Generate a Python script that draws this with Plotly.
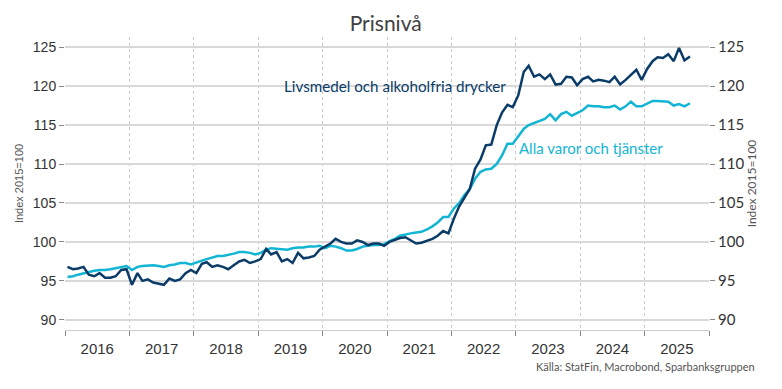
import plotly.graph_objects as go
import pandas as pd

months = pd.date_range("2016-01-01", periods=117, freq="MS") + pd.Timedelta(days=14)
dates = [d.strftime("%Y-%m-%d") for d in months]

livsmedel = [
    96.8, 96.5, 96.6, 96.8, 95.8, 95.6, 96.0, 95.4, 95.4, 95.6, 96.4, 96.5,   # 2016
    94.5, 96.0, 95.0, 95.2, 94.8, 94.6, 94.5, 95.3, 95.0, 95.2, 96.0, 96.4,   # 2017
    96.0, 97.2, 97.4, 96.8, 97.0, 96.8, 96.5, 97.0, 97.5, 97.7, 97.3, 97.5,   # 2018
    97.8, 99.1, 98.4, 98.7, 97.5, 97.8, 97.3, 98.6, 97.9, 98.0, 98.2, 99.0,   # 2019
    99.4, 99.8, 100.4, 100.0, 99.8, 99.8, 100.2, 100.0, 99.6, 99.8, 99.8, 99.5,  # 2020
    100.0, 100.3, 100.5, 100.6, 100.2, 99.8, 99.9, 100.1, 100.4, 100.8, 101.4, 101.1,  # 2021
    103.0, 104.6, 105.6, 106.8, 109.4, 110.6, 112.4, 112.5, 115.0, 116.6, 117.6, 117.3,  # 2022
    118.8, 121.8, 122.6, 121.2, 121.5, 120.9, 121.5, 120.2, 120.3, 121.2, 121.1, 120.1,  # 2023
    120.9, 121.2, 120.6, 120.8, 120.7, 120.5, 121.2, 120.2, 120.8, 121.4, 122.1, 120.8,  # 2024
    122.2, 123.2, 123.7, 123.6, 124.1, 123.2, 124.9, 123.3, 123.8,  # 2025
]

alla = [
    95.5, 95.6, 95.8, 96.0, 96.2, 96.3, 96.4, 96.4, 96.5, 96.6, 96.8, 96.9,   # 2016
    96.4, 96.8, 96.9, 97.0, 97.0, 96.9, 96.8, 97.0, 97.1, 97.3, 97.3, 97.1,   # 2017
    97.4, 97.6, 97.8, 98.0, 98.2, 98.2, 98.3, 98.5, 98.7, 98.7, 98.6, 98.4,   # 2018
    98.6, 99.0, 99.2, 99.1, 99.1, 99.0, 99.2, 99.3, 99.3, 99.4, 99.4, 99.5,   # 2019
    99.2, 99.5, 99.4, 99.2, 98.9, 98.9, 99.1, 99.4, 99.5, 99.6, 99.6, 99.7,   # 2020
    100.1, 100.4, 100.8, 101.0, 101.1, 101.2, 101.3, 101.6, 102.0, 102.5, 103.2, 103.2,  # 2021
    104.3, 105.0, 106.0, 106.8, 108.1, 109.0, 109.3, 109.4, 110.0, 111.1, 112.6, 112.6,  # 2022
    113.5, 114.5, 115.0, 115.3, 115.6, 115.8, 116.4, 115.6, 116.4, 116.7, 116.2, 116.5,  # 2023
    116.9, 117.5, 117.4, 117.4, 117.3, 117.3, 117.5, 117.0, 117.4, 118.0, 117.4, 117.4,  # 2024
    117.7, 118.1, 118.1, 118.0, 118.0, 117.5, 117.7, 117.4, 117.8,  # 2025
]

y_ticks = [90, 95, 100, 105, 110, 115, 120, 125]

DARK = "#0b3c68"
LIGHT = "#12b5d3"
TXT = "#333333"
GRID = "#d9d9d9"

# the page body has an 8px margin, so the figure is drawn 8px in and down
W, H = 774, 381
L, R, T, B = 57, 73, 29, 59

fig = go.Figure()
fig.add_trace(go.Scatter(x=dates, y=alla, mode="lines", line=dict(color=LIGHT, width=2.5),
                         name="Alla varor och tjänster", showlegend=False))
fig.add_trace(go.Scatter(x=dates, y=livsmedel, mode="lines", line=dict(color=DARK, width=2.5),
                         name="Livsmedel och alkoholfria drycker", showlegend=False))
fig.add_trace(go.Scatter(x=dates, y=livsmedel, yaxis="y2", mode="lines",
                         line=dict(width=0), hoverinfo="skip", showlegend=False, opacity=0))

pw = W - L - R
ph = H - T - B
yr = [88.7, 126.3]
fig.update_layout(
    width=W, height=H,
    margin=dict(l=L, r=R, t=T, b=B, autoexpand=False),
    paper_bgcolor="white", plot_bgcolor="white",
    title=dict(text="Prisnivå", x=0.488, xanchor="center", y=1 - 16 / H, yanchor="middle",
               font=dict(family="Lato", size=21, color="#404040")),
    xaxis=dict(type="date", range=["2016-01-01", "2026-01-01"],
               tick0="2016-01-01", dtick="M12", ticklabelmode="period", tickformat="%Y",
               showgrid=True, gridcolor="#c8c8c8", griddash="dot", gridwidth=1,
               ticks="outside", ticklen=5, tickcolor="#888888",
               showline=True, linecolor="#cccccc", linewidth=1,
               tickfont=dict(family="Liberation Sans", size=15, color=TXT),
               zeroline=False),
    yaxis=dict(range=yr, tickvals=y_ticks, showgrid=True, gridcolor=GRID, gridwidth=1.5,
               ticks="outside", ticklen=5, tickcolor="#888888",
               tickfont=dict(family="Liberation Sans", size=14, color=TXT),
               title=dict(text="Index 2015=100", font=dict(family="Liberation Sans", size=11, color="#555555"),
                          standoff=6),
               zeroline=False),
    yaxis2=dict(range=yr, tickvals=y_ticks, overlaying="y", side="right", showgrid=False,
                ticks="outside", ticklen=5, tickcolor="#888888",
                tickfont=dict(family="Lato", size=15, color=TXT),
                title=dict(text="Index 2015=100", font=dict(family="Lato", size=12, color="#555555"),
                           standoff=4),
                zeroline=False),
    annotations=[
        dict(x="2021-02-15", y=120.0, xref="x", yref="y", text="Livsmedel och alkoholfria drycker",
             showarrow=False, font=dict(family="Lato", size=15.2, color=DARK)),
        dict(x="2024-03-01", y=112.1, xref="x", yref="y", text="Alla varor och tjänster",
             showarrow=False, font=dict(family="Lato", size=15, color=LIGHT)),
        dict(x=(749 - L) / pw, y=(H - B - 358) / ph, xref="paper", yref="paper",
             text="Källa: StatFin, Macrobond, Sparbanksgruppen",
             showarrow=False, xanchor="right", yanchor="middle",
             font=dict(family="Lato", size=11, color="#555555")),
    ],
)

fig.write_html("out.html")
